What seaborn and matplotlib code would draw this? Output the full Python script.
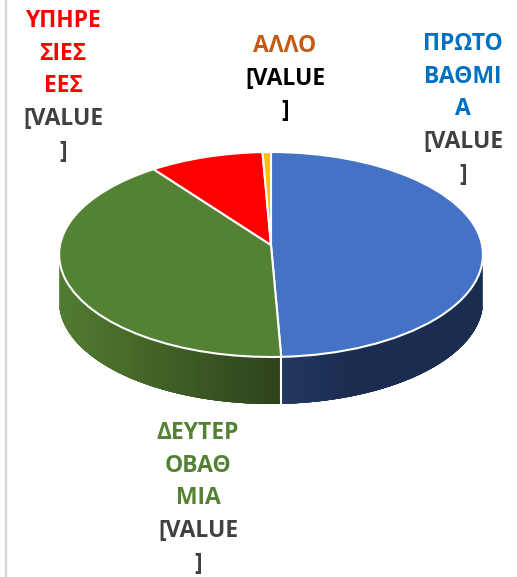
import numpy as np
import matplotlib
matplotlib.use("Agg")
import matplotlib.pyplot as plt
import matplotlib.colors as mc
from matplotlib.transforms import Transform
import seaborn as sns

# Data
categories = ["ΠΡΩΤΟΒΑΘΜΙΑ", "ΔΕΥΤΕΡΟΒΑΘΜΙΑ", "ΥΠΗΡΕΣΙΕΣ ΕΕΣ", "ΑΛΛΟ"]
shares = [49.3, 40.5, 9.5, 0.7]
slice_colors = ["#4472c4", "#548235", "#ff0000", "#ffc000"]
wall_left = {"ΠΡΩΤΟΒΑΘΜΙΑ": "#24395f", "ΔΕΥΤΕΡΟΒΑΘΜΙΑ": "#527c31", "ΥΠΗΡΕΣΙΕΣ ΕΕΣ": "#990000", "ΑΛΛΟ": "#997300"}
wall_right = {"ΠΡΩΤΟΒΑΘΜΙΑ": "#1a2c50", "ΔΕΥΤΕΡΟΒΑΘΜΙΑ": "#2d421a", "ΥΠΗΡΕΣΙΕΣ ΕΕΣ": "#990000", "ΑΛΛΟ": "#997300"}

label_lines = [
    (["ΠΡΩΤΟ", "ΒΑΘΜΙ", "Α"], ["[VALUE", "]"], "#0070c0", "#404040", 463, 44),
    (["ΔΕΥΤΕΡ", "ΟΒΑΘ", "ΜΙΑ"], ["[VALUE", "]"], "#548235", "#404040", 198, 433),
    (["ΥΠΗΡΕ", "ΣΙΕΣ", "ΕΕΣ"], ["[VALUE", "]"], "#ff0000", "#404040", 63, 21),
    (["ΑΛΛΟ"], ["[VALUE", "]"], "#c55a11", "#000000", 285, 46),
]

sns.set_theme(style="white")
plt.rcParams["font.family"] = ["Open Sans", "DejaVu Sans"]

# Layout of the tilted disc, in image pixels
XC, YC = 271.0, 245.0
K, A, B = 0.0927, 101.6, 211.0
DEPTH = 47.0
LINE = 32.7


class Tilt(Transform):
    """Perspective view of the unit disc."""
    input_dims = 2
    output_dims = 2
    is_separable = False
    has_inverse = False

    def transform_non_affine(self, values):
        values = np.asarray(values, dtype=float)
        w = 1 + K * values[:, 1]
        return np.column_stack([XC + B * values[:, 0] / w, YC - A * values[:, 1] / w])


fig = plt.figure(figsize=(5.17, 5.77), dpi=100, facecolor="white")
ax = fig.add_axes([0, 0, 1, 1])

palette = sns.color_palette(slice_colors)
wedges, _ = ax.pie(shares, colors=palette, startangle=90, counterclock=False, radius=1,
                   wedgeprops=dict(edgecolor="white", linewidth=1.5))
ax.set_aspect("auto")
ax.set_xlim(0, 517)
ax.set_ylim(577, 0)
ax.axis("off")

tilt = Tilt()
for w in wedges:
    w.set_transform(tilt + ax.transData)
    w.set_zorder(5)
    w.set_clip_on(False)

# Front wall: strips below the rim, split where the slices split
edges = np.concatenate([[0], np.cumsum(shares)]) / np.sum(shares) * 360
wall_from, wall_to = 100.0, 260.0
for name, a0, a1 in zip(categories, edges[:-1], edges[1:]):
    lo, hi = max(a0, wall_from), min(a1, wall_to)
    if hi <= lo:
        continue
    n = max(int((hi - lo) / 0.5), 1)
    theta = np.linspace(lo, hi, n + 1)
    xy = tilt.transform_non_affine(np.column_stack([np.sin(np.radians(theta)), np.cos(np.radians(theta))]))
    c_l, c_r = np.array(mc.to_rgb(wall_left[name])), np.array(mc.to_rgb(wall_right[name]))
    x0, x1 = xy[:, 0].min(), xy[:, 0].max()
    # base shape gives a smooth outer edge and clips the shaded strips
    base = ax.fill(np.r_[xy[:, 0], xy[::-1, 0]], np.r_[xy[:, 1], xy[::-1, 1] + DEPTH],
                   color=c_r, lw=0, zorder=2)[0]
    order = np.argsort((xy[:-1, 0] + xy[1:, 0]) / 2)
    for i in order:
        xs = [xy[i, 0], xy[i + 1, 0], xy[i + 1, 0], xy[i, 0]]
        ys = [xy[i, 1], xy[i + 1, 1], xy[i + 1, 1] + DEPTH, xy[i, 1] + DEPTH]
        t = ((xy[i, 0] + xy[i + 1, 0]) / 2 - x0) / max(x1 - x0, 1)
        if name == categories[0]:
            t = min(t * 3, 1)
        col = c_l + (c_r - c_l) * t
        strip = ax.fill(xs, ys, color=col, lw=0.9, zorder=2.1, antialiased=False)[0]
        strip.set_clip_path(base)
    # white divider where a slice boundary meets the wall
    if wall_from < a0 < wall_to:
        ax.plot([xy[0, 0], xy[0, 0]], [xy[0, 1], xy[0, 1] + DEPTH], color="white", lw=1.5, zorder=3)

# Light border at the left of the image
ax.plot([6, 6], [0, 577], color="#d9d9d9", lw=1.7, zorder=1, solid_capstyle="butt")

# Labels, one text per line
for name_l, val_l, c_name, c_val, x, y in label_lines:
    for i, s in enumerate(name_l + val_l):
        col = c_name if i < len(name_l) else c_val
        ax.text(x, y + i * LINE, s, color=col, fontsize=16.5, fontweight="bold",
                ha="center", va="center", zorder=6)

fig.savefig("out.png", dpi=100, facecolor="white")
